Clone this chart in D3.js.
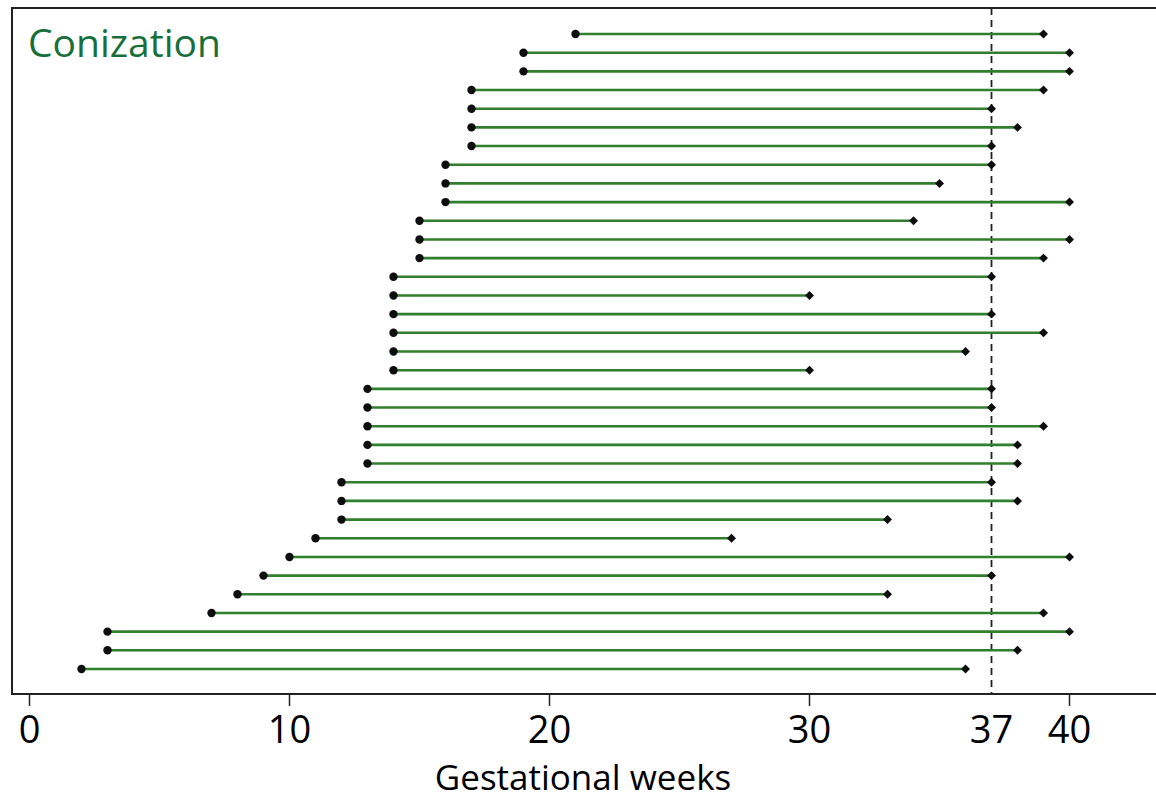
<!DOCTYPE html>
<html>
<head>
<meta charset="utf-8">
<script src="https://cdn.jsdelivr.net/npm/d3@7"></script>
<style>
  body { margin: 0; background: #fff; }
  svg { display: block; font-family: "Open Sans", sans-serif; }
</style>
</head>
<body>
<svg id="chart" width="1156" height="802"></svg>
<script>
// one row per patient, top to bottom: week of conization -> week of delivery
const startWeeks = [21, 19, 19, 17, 17, 17, 17, 16, 16, 16, 15, 15, 15, 14, 14, 14, 14, 14, 14,
                    13, 13, 13, 13, 13, 12, 12, 12, 11, 10, 9, 8, 7, 3, 3, 2];
const endWeeks   = [39, 40, 40, 39, 37, 38, 37, 37, 35, 40, 34, 40, 39, 37, 30, 37, 39, 36, 30,
                    37, 37, 39, 38, 38, 37, 38, 33, 27, 40, 37, 33, 39, 40, 38, 36];
const tickWeeks  = [0, 10, 20, 30, 40];
const labelWeeks = [0, 10, 20, 30, 37, 40];
const termWeek = 37;

const svg = d3.select("#chart");
const box = {left: 12, top: 8, right: 1160, bottom: 694};

const x = d3.scaleLinear().domain([0, 40]).range([29.5, 1069.5]);
const rows = d3.range(startWeeks.length);
const y = d3.scalePoint().domain(rows).range([34, 669]);

// frame (right side runs off the picture)
svg.append("path")
    .attr("d", `M${box.right},${box.top}H${box.left}V${box.bottom}H${box.right}`)
    .attr("fill", "none")
    .attr("stroke", "#222")
    .attr("stroke-width", 2);

// x axis: ticks only at the round weeks, label also at 37
const axis = svg.append("g").attr("transform", `translate(0,${box.bottom})`);
axis.selectAll("line.tick")
    .data(tickWeeks)
    .enter().append("line")
    .attr("class", "tick")
    .attr("x1", d => x(d)).attr("x2", d => x(d))
    .attr("y1", 0).attr("y2", 12)
    .attr("stroke", "#222")
    .attr("stroke-width", 1.5);

axis.selectAll("text")
    .data(labelWeeks)
    .enter().append("text")
    .attr("x", d => x(d))
    .attr("y", 49)
    .attr("text-anchor", "middle")
    .attr("font-size", "38px")
    .attr("fill", "#000")
    .text(d => d);

svg.append("text")
    .attr("x", 583)
    .attr("y", 790)
    .attr("text-anchor", "middle")
    .attr("font-size", "35px")
    .attr("fill", "#000")
    .text("Gestational weeks");

// term line
svg.append("line")
    .attr("x1", x(termWeek)).attr("x2", x(termWeek))
    .attr("y1", box.top).attr("y2", box.bottom)
    .attr("stroke", "#222")
    .attr("stroke-width", 1.8)
    .attr("stroke-dasharray", "7,5");

// follow-up segments
const g = svg.append("g");
g.selectAll("line.seg")
    .data(rows)
    .enter().append("line")
    .attr("class", "seg")
    .attr("x1", i => x(startWeeks[i]))
    .attr("x2", i => x(endWeeks[i]))
    .attr("y1", i => y(i)).attr("y2", i => y(i))
    .attr("stroke", "#2f7f2f")
    .attr("stroke-width", 2.6);

g.selectAll("circle")
    .data(rows)
    .enter().append("circle")
    .attr("cx", i => x(startWeeks[i]))
    .attr("cy", i => y(i))
    .attr("r", 4.2)
    .attr("fill", "#0d0d0d");

// delivery marker: square turned 45 degrees
const diamond = d3.symbol().type(d3.symbolSquare).size(40);
g.selectAll("path.end")
    .data(rows)
    .enter().append("path")
    .attr("class", "end")
    .attr("d", diamond)
    .attr("transform", i => `translate(${x(endWeeks[i])},${y(i)}) rotate(45)`)
    .attr("fill", "#0d0d0d");

svg.append("text")
    .attr("x", 28)
    .attr("y", 57)
    .attr("font-size", "39px")
    .attr("fill", "#17703c")
    .text("Conization");
</script>
</body>
</html>
